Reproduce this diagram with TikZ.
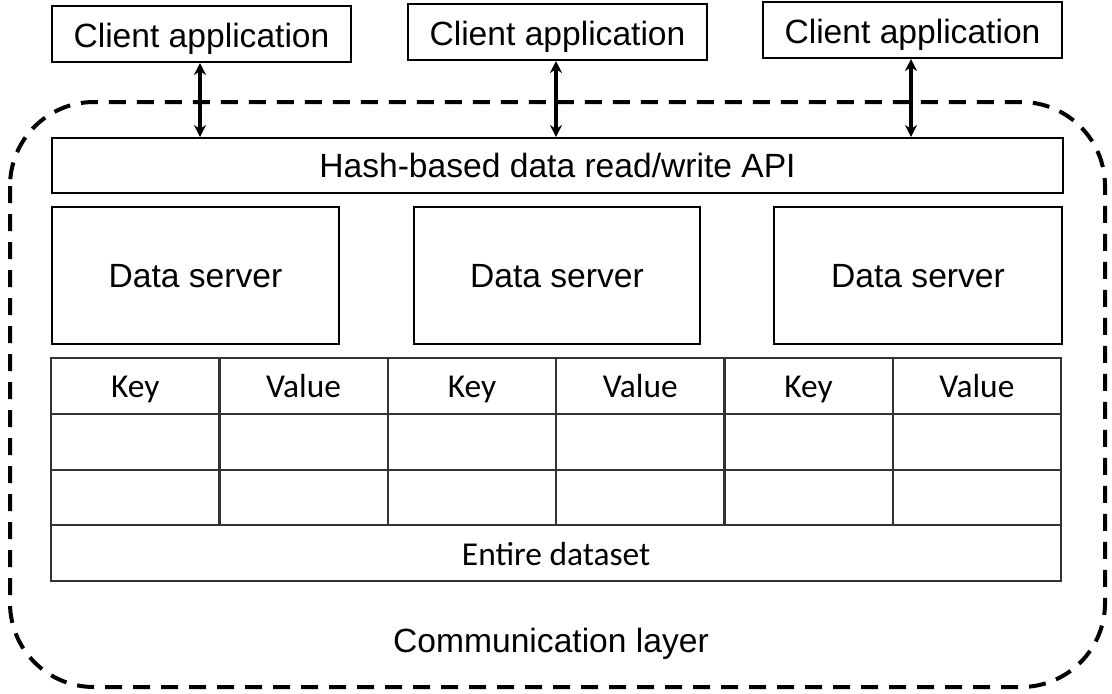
\documentclass[tikz,border=0pt]{standalone}
\usepackage{fontspec}
\setmainfont{Liberation Sans}
\newfontfamily\tablefont{Carlito}
\usetikzlibrary{arrows.meta}

\begin{document}
\begin{tikzpicture}[x=0.5pt,y=-0.5pt,
  box/.style={draw, line width=1pt, anchor=north west, inner sep=0pt,
    text height=12pt, text depth=0pt,
    font=\fontsize{16.8}{20}\selectfont},
  client/.style={box, minimum width=149.5pt, minimum height=28pt, text height=13.5pt},
  cell/.style={draw=black!80, line width=1.1pt, anchor=north west, inner sep=0pt,
    minimum width=84.17pt, minimum height=27.875pt,
    text height=12pt, text depth=0pt,
    font=\tablefont\fontsize{16.7}{20}\selectfont},
  arr/.style={line width=1.6pt, {Stealth[length=6pt,width=6pt]}-{Stealth[length=6pt,width=6pt]}},
  layer/.style={line width=2pt, dash pattern=on 8.5pt off 5.5pt, rounded corners=42pt}
]
\useasboundingbox (0,0) rectangle (1112,693);

% communication layer (dashed outline)
\draw[layer] (10,102) rectangle (1105,687);
\node[font=\fontsize{16.8}{20}\selectfont, text height=12pt, text depth=0pt] (comm) at (551,640) {Communication layer};

% client applications
\node[client] (c1) at (51,5) {Client application};
\node[client] (c2) at (407,3) {Client application};
\node[client] (c3) at (762,1) {Client application};

% API layer
\node[box, minimum width=505.5pt, minimum height=27.5pt] (api) at (51,137) {Hash-based data read/write API};

% data servers
\node[box, minimum width=143.5pt, minimum height=68.5pt] (s1) at (51,206) {Data server};
\node[box, minimum width=143pt, minimum height=68.5pt] (s2) at (413,206) {Data server};
\node[box, minimum width=144pt, minimum height=68.5pt] (s3) at (773,206) {Data server};

% key/value table
\foreach \i in {0,...,5}{
  \pgfmathparse{mod(\i,2)==0 ? "Key" : "Value"}
  \edef\hdr{\pgfmathresult}
  \node[cell] (t-0-\i) at ({50+168.333*\i},357) {\hdr};
  \node[cell] (t-1-\i) at ({50+168.333*\i},412.75) {};
  \node[cell] (t-2-\i) at ({50+168.333*\i},468.5) {};
}
\node[cell, minimum width=505pt] (all) at (50,524.25) {Entire dataset};

% client <-> API connectors
\draw[arr] ([xshift=-0.75pt]c1.south) -- ([xshift=-0.75pt]c1.south |- api.north);
\draw[arr] ([xshift=-0.75pt]c2.south) -- ([xshift=-0.75pt]c2.south |- api.north);
\draw[arr] ([xshift=-0.75pt]c3.south) -- ([xshift=-0.75pt]c3.south |- api.north);
\end{tikzpicture}
\end{document}
